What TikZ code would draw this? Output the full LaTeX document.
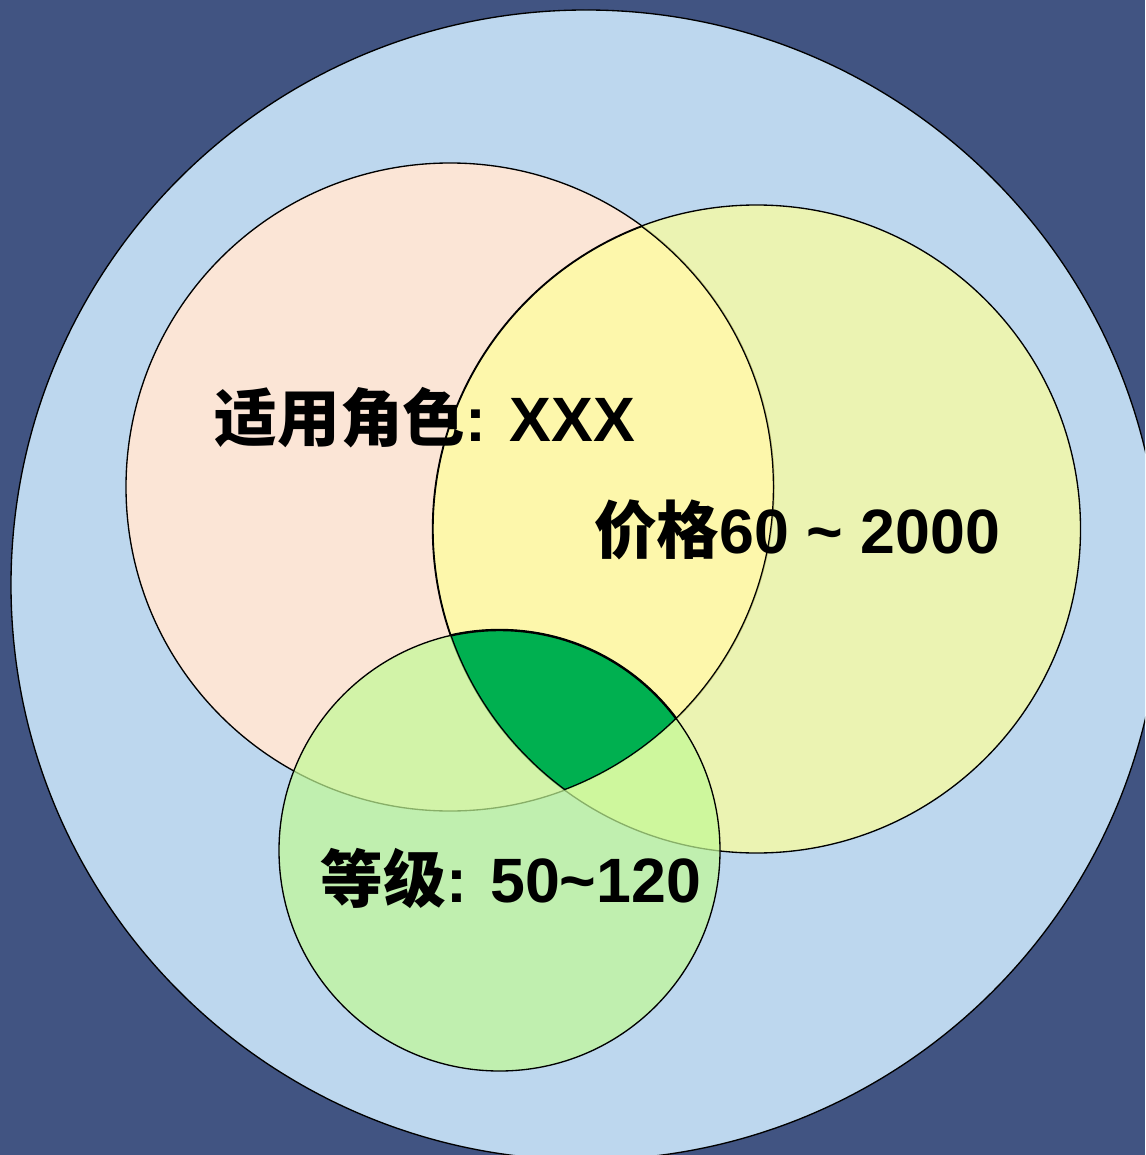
\documentclass[tikz,border=0pt]{standalone}
\usepackage{fontspec}
\setmainfont{Liberation Sans}
\newfontfamily\cjk{Noto Sans CJK SC}
\definecolor{bgblue}{HTML}{415482}
\definecolor{lblue}{HTML}{BDD7EE}
\definecolor{lpink}{HTML}{FBE5D6}
\definecolor{lyellow}{HTML}{FFFF99}
\definecolor{lgreen}{HTML}{C2FA95}
\definecolor{dgreen}{HTML}{00B050}
\tikzset{
  ring/.style={draw=black, line width=1pt},
  lbl/.style={font=\fontsize{47}{52}\selectfont\bfseries, text=black, inner sep=0pt}
}
\begin{document}
\begin{tikzpicture}[x=0.75pt,y=-0.75pt]
\useasboundingbox (0,0) rectangle (1145,1155);
\clip (0,0) rectangle (1145,1155);
\fill[bgblue] (0,0) rectangle (1145,1155);
% outer circle
\draw[ring, fill=lblue] (586,585) circle [radius=575];
% pink
\draw[ring, fill=lpink] (450,487) circle [radius=324];
% yellow
\draw[ring, fill=lyellow, fill opacity=0.7] (756.5,529) circle [radius=324];
% green
\draw[ring, fill=lgreen, fill opacity=0.7] (499.5,850.5) circle [radius=220.5];
% triple intersection
\begin{scope}
  \clip (450,487) circle [radius=324];
  \clip (756.5,529) circle [radius=324];
  \fill[dgreen] (499.5,850.5) circle [radius=220.5];
  \draw[black, line width=1.8pt] (450,487) circle [radius=324];
  \draw[black, line width=1.8pt] (756.5,529) circle [radius=324];
  \draw[black, line width=1.8pt] (499.5,850.5) circle [radius=220.5];
\end{scope}
% labels
\node[lbl] (role) at (425,418) {{\cjk\bfseries 适用角色}: XXX};
\node[lbl] (price) at (797,530) {{\cjk\bfseries 价格}60 \textasciitilde{} 2000};
\node[lbl] (level) at (511,878) {{\cjk\bfseries 等级}: 50\textasciitilde{}120};
\end{tikzpicture}
\end{document}
